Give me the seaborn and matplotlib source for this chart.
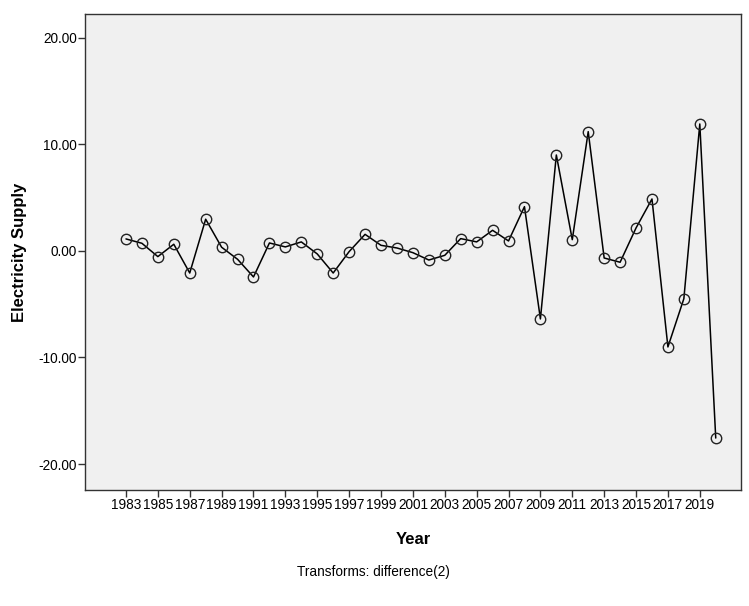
import numpy as np
import pandas as pd
import matplotlib
matplotlib.use('Agg')
import matplotlib.pyplot as plt
import seaborn as sns

# Second-order differenced electricity supply
years = list(range(1983, 2021))
supply_diff = [1.13, 0.72, -0.53, 0.63, -2.07, 2.98, 0.35, -0.78, -2.44, 0.75,
               0.38, 0.85, -0.28, -2.07, -0.06, 1.56, 0.53, 0.28, -0.16, -0.85,
               -0.41, 1.16, 0.85, 1.94, 0.94, 4.16, -6.38, 9.01, 1.06, 11.2,
               -0.66, -1.06, 2.16, 4.88, -9.01, -4.48, 11.92, -17.56]
y_ticks = [-20, -10, 0, 10, 20]
x_ticks = list(range(1983, 2021, 2))

df = pd.DataFrame({'Year': years, 'Electricity Supply': supply_diff})

sns.set_style('white')
plt.rcParams['font.family'] = ['Liberation Sans', 'DejaVu Sans']
plt.rcParams['text.color'] = 'black'
plt.rcParams['axes.labelcolor'] = 'black'
plt.rcParams['xtick.color'] = 'black'
plt.rcParams['ytick.color'] = 'black'

fig = plt.figure(figsize=(7.49, 6.06), dpi=100)
ax = fig.add_axes([0.1135, 0.1914, 0.8755, 0.7856])
ax.set_facecolor('#f0f0f0')

sns.lineplot(data=df, x='Year', y='Electricity Supply', ax=ax,
             color='black', linewidth=1.1, marker='o', markersize=7.5,
             markerfacecolor='none', markeredgecolor='#222222',
             markeredgewidth=1.0)

ax.set_xlim(1980.43, 2021.57)
ax.set_ylim(-22.44, 22.25)
ax.set_xticks(x_ticks)
ax.set_xticklabels([str(y) for y in x_ticks], fontsize=9.8)
ax.set_yticks(y_ticks)
ax.set_yticklabels([f'{v:.2f}' for v in y_ticks], fontsize=9.8)
ax.tick_params(axis='both', direction='out', length=5, width=1,
               color='#333333', labelcolor='black', pad=1,
               bottom=True, left=True)

for side in ['top', 'right', 'bottom', 'left']:
    ax.spines[side].set_visible(True)
    ax.spines[side].set_color('#333333')
    ax.spines[side].set_linewidth(1.0)

ax.set_xlabel('Year', fontsize=12, fontweight='bold', labelpad=14)
ax.set_ylabel('Electricity Supply', fontsize=12, fontweight='bold', labelpad=8)

fig.text(0.498, 0.056, 'Transforms: difference(2)', ha='center', va='center',
         fontsize=9.8)

fig.savefig('out.png', dpi=100)
plt.close(fig)
